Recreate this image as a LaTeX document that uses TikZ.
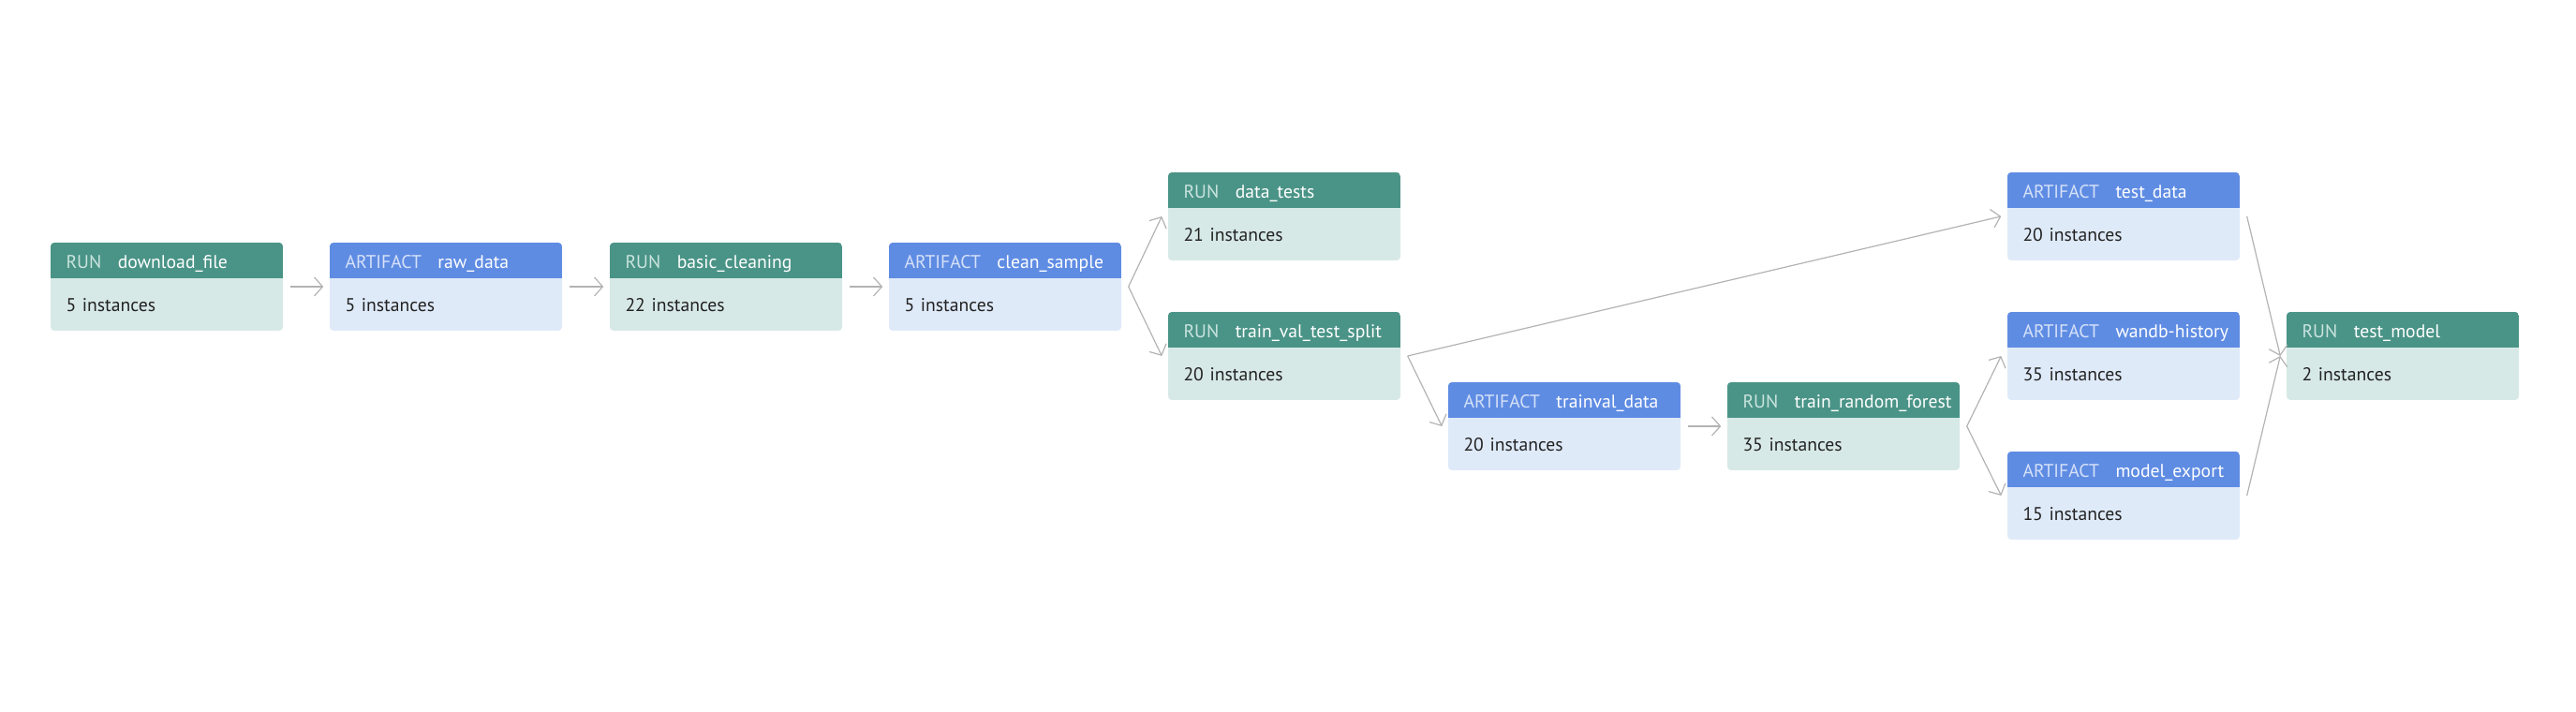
\documentclass[tikz,border=0pt]{standalone}
\usepackage{fontspec}
\setmainfont{PT Sans}
\usetikzlibrary{arrows.meta}
\definecolor{runhead}{HTML}{4A9487}
\definecolor{runbody}{HTML}{D7E9E6}
\definecolor{runlab}{HTML}{CBE4DF}
\definecolor{arthead}{HTML}{5F8CE3}
\definecolor{artbody}{HTML}{DFEAF9}
\definecolor{artlab}{HTML}{D5E1F8}
\definecolor{edgegray}{HTML}{B3B3B3}
\definecolor{bodytext}{HTML}{222222}
\newcommand{\runhd}[1]{\mbox{{\color{runlab}RUN}\hspace{0.175cm}{\color{white}#1}}}
\newcommand{\arthd}[1]{\mbox{{\color{artlab}ARTIFACT}\hspace{0.175cm}{\color{white}#1}}}
\newcommand{\inst}[1]{#1 instances\rule[-0.07cm]{0pt}{0pt}}
\begin{document}
\begin{tikzpicture}[
    box/.style={rounded corners=0.04cm, minimum width=2.48cm, minimum height=0.94cm,
      text width=2.15cm, inner xsep=0.165cm, align=left, text=bodytext,
      font=\fontsize{5.6}{13.1}\selectfont},
    run/.style={box, fill=runbody,
      path picture={\fill[runhead, sharp corners] (path picture bounding box.north west)
        rectangle ([yshift=-0.38cm]path picture bounding box.north east);}},
    artifact/.style={box, fill=artbody,
      path picture={\fill[arthead, sharp corners] (path picture bounding box.north west)
        rectangle ([yshift=-0.38cm]path picture bounding box.north east);}},
    flow/.style={draw=edgegray, line width=0.012cm, -{Straight Barb[length=0.09cm, width=0.2cm]}}
  ]
  \useasboundingbox (0,0) rectangle (27.5,7.6);

  \node[run] (download) at (1.78,4.54) {\runhd{download\_file}\\ \inst{5}};
  \node[artifact] (raw) at (4.76,4.54) {\arthd{raw\_data}\\ \inst{5}};
  \node[run] (cleaning) at (7.75,4.54) {\runhd{basic\_cleaning}\\ \inst{22}};
  \node[artifact] (sample) at (10.73,4.54) {\arthd{clean\_sample}\\ \inst{5}};
  \node[run] (tests) at (13.71,5.29) {\runhd{data\_tests}\\ \inst{21}};
  \node[run] (split) at (13.71,3.80) {\runhd{train\_val\_test\_split}\\ \inst{20}};
  \node[artifact] (trainval) at (16.70,3.05) {\arthd{trainval\_data}\\ \inst{20}};
  \node[run] (forest) at (19.68,3.05) {\runhd{train\_random\_forest}\\ \inst{35}};
  \node[artifact] (testdata) at (22.67,5.29) {\arthd{test\_data}\\ \inst{20}};
  \node[artifact] (history) at (22.67,3.80) {\arthd{wandb-history}\\ \inst{35}};
  \node[artifact] (export) at (22.67,2.31) {\arthd{model\_export}\\ \inst{15}};
  \node[run] (testmodel) at (25.65,3.80) {\runhd{test\_model}\\ \inst{2}};

  \draw[flow] ([xshift=0.07cm]download.east) -- ([xshift=-0.06cm]raw.west);
  \draw[flow] ([xshift=0.07cm]raw.east) -- ([xshift=-0.06cm]cleaning.west);
  \draw[flow] ([xshift=0.07cm]cleaning.east) -- ([xshift=-0.06cm]sample.west);
  \draw[flow] ([xshift=0.07cm]sample.east) -- ([xshift=-0.06cm]tests.west);
  \draw[flow] ([xshift=0.07cm]sample.east) -- ([xshift=-0.06cm]split.west);
  \draw[flow] ([xshift=0.07cm]split.east) -- ([xshift=-0.06cm]testdata.west);
  \draw[flow] ([xshift=0.07cm]split.east) -- ([xshift=-0.06cm]trainval.west);
  \draw[flow] ([xshift=0.07cm]trainval.east) -- ([xshift=-0.06cm]forest.west);
  \draw[flow] ([xshift=0.07cm]forest.east) -- ([xshift=-0.06cm]history.west);
  \draw[flow] ([xshift=0.07cm]forest.east) -- ([xshift=-0.06cm]export.west);
  \draw[flow] ([xshift=0.07cm]testdata.east) -- ([xshift=-0.06cm]testmodel.west);
  \draw[flow] ([xshift=0.07cm]export.east) -- ([xshift=-0.06cm]testmodel.west);
\end{tikzpicture}
\end{document}
